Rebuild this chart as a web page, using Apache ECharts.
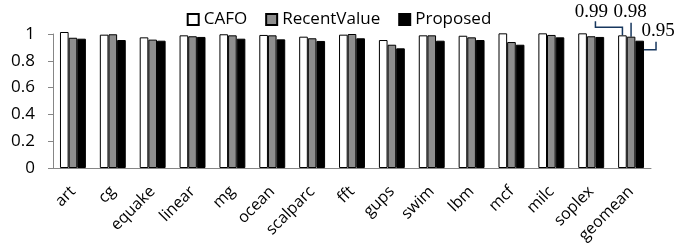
<!DOCTYPE html>
<html>
<head>
<meta charset="utf-8">
<script src="https://cdn.jsdelivr.net/npm/echarts@6/dist/echarts.min.js"></script>
<style>
  html, body { margin: 0; padding: 0; background: #fff; }
  #chart { width: 678px; height: 250px; }
</style>
</head>
<body>
<div id="chart"></div>
<script>
const categories = ['art', 'cg', 'equake', 'linear', 'mg', 'ocean', 'scalparc', 'fft', 'gups', 'swim', 'lbm', 'mcf', 'milc', 'soplex', 'geomean']
const cafo = [1.015, 0.995, 0.975, 0.99, 0.998, 0.993, 0.98, 0.995, 0.955, 0.99, 0.987, 1.005, 1.005, 1.005, 0.99]
const recentValue = [0.972, 0.998, 0.958, 0.983, 0.99, 0.99, 0.968, 1.0, 0.92, 0.99, 0.975, 0.94, 0.993, 0.983, 0.98]
const proposed = [0.965, 0.955, 0.95, 0.978, 0.965, 0.96, 0.948, 0.968, 0.893, 0.95, 0.955, 0.92, 0.975, 0.978, 0.95]
const yTicks = [0, 0.2, 0.4, 0.6, 0.8, 1]
const calloutLabels = ['0.99', '0.98', '0.95']

const chart = echarts.init(document.getElementById('chart'))
const font = '"Open Sans", sans-serif'
const axisGray = '#868686'

const barStyle = (color) => ({ color: color, borderColor: '#000', borderWidth: 1 })

chart.setOption({
  animation: false,
  legend: {
    top: 6,
    left: 'center',
    icon: 'rect',
    itemWidth: 11,
    itemHeight: 11,
    itemGap: 18,
    textStyle: { fontFamily: font, fontSize: 17, color: '#000' },
    data: ['CAFO', 'RecentValue', 'Proposed']
  },
  grid: { left: 53, right: 27, top: 34, bottom: 82 },
  xAxis: {
    type: 'category',
    data: categories,
    axisLine: { lineStyle: { color: axisGray } },
    axisTick: { length: 5, lineStyle: { color: axisGray } },
    axisLabel: { rotate: 45, interval: 0, margin: 21, color: '#000', fontFamily: font, fontSize: 16 }
  },
  yAxis: {
    type: 'value',
    min: yTicks[0],
    max: yTicks[yTicks.length - 1],
    interval: 0.2,
    axisLine: { show: true, lineStyle: { color: axisGray } },
    axisTick: { show: true, length: 5, lineStyle: { color: axisGray } },
    splitLine: { show: false },
    axisLabel: {
      margin: 18, color: '#000', fontFamily: font, fontSize: 17,
      formatter: (v) => String(+v.toFixed(1))
    }
  },
  series: [
    { name: 'CAFO', type: 'bar', data: cafo, itemStyle: barStyle('#ffffff'), barGap: '0%', barCategoryGap: '35%', clip: false },
    { name: 'RecentValue', type: 'bar', data: recentValue, itemStyle: barStyle('#8e8e8e'), clip: false },
    { name: 'Proposed', type: 'bar', data: proposed, itemStyle: barStyle('#000000'), clip: false }
  ]
})

// callouts for the geomean bars, positioned from the bar layouts
const last = categories.length - 1
const model = chart.getModel()
const layouts = [0, 1, 2].map(i => model.getSeriesByIndex(i).getData().getItemLayout(last))
const barTop = (l) => Math.min(l.y, l.y + l.height)
const navy = '#17375e'
const lineStyle = { stroke: navy, lineWidth: 1.5, fill: null }
const calloutText = (x, y, t) => ({
  type: 'text', x: x, y: y,
  style: { text: t, fontFamily: '"Liberation Serif", serif', fontSize: 19, fill: '#000', align: 'center', verticalAlign: 'middle' }
})

const w = layouts[0], g = layouts[1], b = layouts[2]
const wx = w.x + w.width / 2, gx = g.x + g.width / 2
chart.setOption({
  graphic: [
    { type: 'polyline', shape: { points: [[wx, barTop(w)], [wx, barTop(w) - 8], [wx - 27, barTop(w) - 8], [wx - 27, barTop(w) - 14]] }, style: lineStyle },
    calloutText(wx - 31, barTop(w) - 23, calloutLabels[0]),
    { type: 'polyline', shape: { points: [[gx, barTop(g)], [gx, barTop(g) - 14]] }, style: lineStyle },
    calloutText(gx - 1, barTop(w) - 23, calloutLabels[1]),
    { type: 'polyline', shape: { points: [[b.x + b.width, barTop(b) + 9], [b.x + b.width + 12, barTop(b) + 9], [b.x + b.width + 12, barTop(b) + 1]] }, style: lineStyle },
    calloutText(b.x + b.width + 14, barTop(b) - 10, calloutLabels[2])
  ]
})
</script>
</body>
</html>
